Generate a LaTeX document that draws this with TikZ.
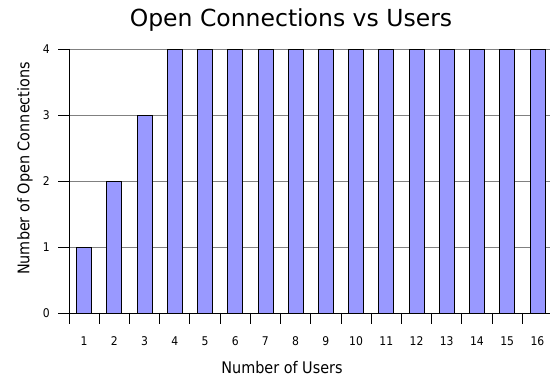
\documentclass[tikz,border=0pt]{standalone}
\usepackage{fontspec}
\setmainfont{DejaVu Sans}
\newfontfamily\condfont{DejaVu Sans Condensed}
\definecolor{barfill}{HTML}{9999FF}
\definecolor{gridgray}{HTML}{808080}
\begin{document}
\begin{tikzpicture}[x=1pt,y=-1pt,
  bar/.style={draw=black,line width=0.8pt,fill=barfill},
  gridline/.style={draw=gridgray,line width=0.9pt},
  axisline/.style={draw=black,line width=0.9pt},
  ticklabel/.style={font=\condfont\fontsize{12}{14}\selectfont,inner sep=0pt},
  axistitle/.style={font=\condfont\fontsize{16}{19}\selectfont,inner sep=0pt},
  charttitle/.style={font=\fontsize{23.5}{28}\selectfont,inner sep=0pt}]
\useasboundingbox (0,0) rectangle (550,379);
\fill[white] (0,0) rectangle (550,379);
% plot frame: left edge 69, bottom 313, one unit = 66
\def\px{69}
\def\py{313}
\def\cw{30.22}
% horizontal grid lines at 1..4
\foreach \v in {1,2,3,4}
  \draw[gridline] (\px,{\py-66*\v}) -- (550,{\py-66*\v});
% bars
\foreach \i/\v in {1/1,2/2,3/3,4/4,5/4,6/4,7/4,8/4,9/4,10/4,11/4,12/4,13/4,14/4,15/4,16/4}
  \draw[bar] ({\px+(\i-0.5)*\cw-7.5},\py) rectangle ({\px+(\i-0.5)*\cw+7.5},{\py-66*\v});
% axes
\draw[axisline] (\px,{\py-66*4}) -- (\px,\py);
\draw[axisline] (58,\py) -- (550,\py);
% y ticks and labels
\foreach \v in {0,1,2,3,4} {
  \draw[axisline] (58,{\py-66*\v}) -- (\px,{\py-66*\v});
  \node[ticklabel,anchor=east] (ylab\v) at (50,{\py-66*\v}) {\v};
}
% x ticks
\foreach \i in {0,...,15}
  \draw[axisline] ({\px+\i*\cw},\py) -- ({\px+\i*\cw},324);
% x labels
\foreach \i in {1,...,16}
  \node[ticklabel] (xlab\i) at ({\px+(\i-0.5)*\cw},341) {\i};
% titles
\node[charttitle] (title) at (291,20) {Open Connections vs Users};
\node[axistitle] (xtitle) at (282,368) {Number of Users};
\node[axistitle,rotate=90] (ytitle) at (25,168.5) {Number of Open Connections};
\end{tikzpicture}
\end{document}
